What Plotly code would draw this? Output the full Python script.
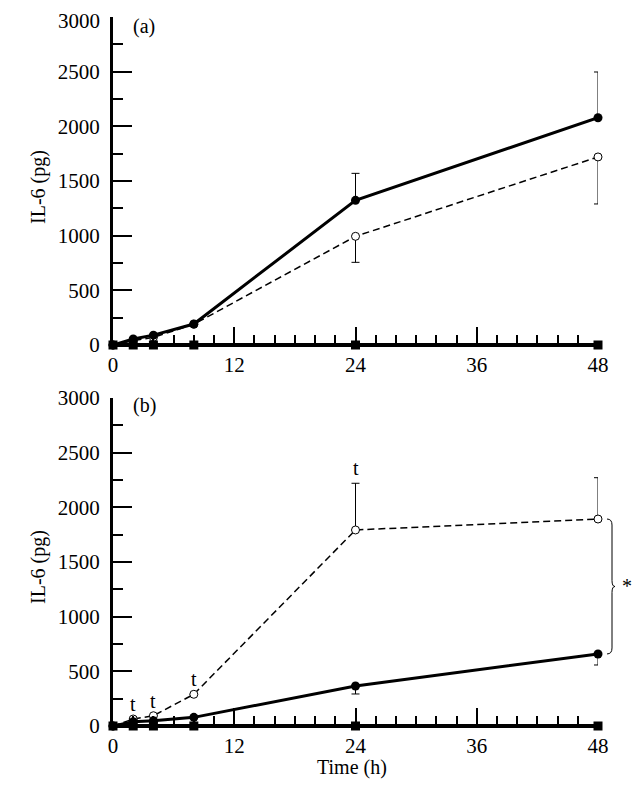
import plotly.graph_objects as go

# ---- data ----
time_h = [0, 2, 4, 8, 24, 48]

# panel (a)
a_filled = [0, 55, 90, 192, 1323, 2079]
a_filled_err_up = [0, 0, 0, 0, 247, 418]
a_open = [0, 40, 70, 190, 994, 1720]
a_open_err_down = [0, 0, 0, 0, 238, 430]
a_square = [0, 0, 0, 0, 0, 0]

# panel (b)
b_filled = [0, 40, 48, 79, 366, 659]
b_filled_err_down = [0, 0, 0, 0, 73, 101]
b_open = [0, 64, 94, 290, 1793, 1893]
b_open_err_up = [0, 0, 0, 0, 427, 378]
b_square = [0, 0, 0, 0, 0, 0]

t_marks_times = [2, 4, 8, 24]

y_ticks = [0, 500, 1000, 1500, 2000, 2500, 3000]
y_ticktext = [str(v) for v in y_ticks]
x_ticks = [0, 12, 24, 36, 48]

FONT = "Liberation Serif"
OFF = 8  # page body margin
W, H = 640 - OFF, 795 - OFF


def px_x(p):
    return (p - OFF) / W


def px_y(p):
    return 1 - (p - OFF) / H


fig = go.Figure()


def add_panel(xa, ya, filled, filled_err, filled_up, opn, open_err, open_up, sq):
    ey_open = dict(type="data", symmetric=False, color="black", thickness=1, width=4)
    if open_up:
        ey_open.update(array=open_err, arrayminus=[0] * len(open_err))
    else:
        ey_open.update(array=[0] * len(open_err), arrayminus=open_err)
    fig.add_trace(go.Scatter(
        x=time_h, y=opn, xaxis=xa, yaxis=ya, mode="lines+markers",
        line=dict(color="black", width=1.5, dash="7px,4px"),
        marker=dict(symbol="circle", size=8, color="white", line=dict(color="black", width=1)),
        error_y=ey_open, cliponaxis=False, showlegend=False))
    ey_f = dict(type="data", symmetric=False, color="black", thickness=1, width=4)
    if filled_up:
        ey_f.update(array=filled_err, arrayminus=[0] * len(filled_err))
    else:
        ey_f.update(array=[0] * len(filled_err), arrayminus=filled_err)
    fig.add_trace(go.Scatter(
        x=time_h, y=filled, xaxis=xa, yaxis=ya, mode="lines+markers",
        line=dict(color="black", width=3),
        marker=dict(symbol="circle", size=9, color="black"),
        error_y=ey_f, cliponaxis=False, showlegend=False))
    fig.add_trace(go.Scatter(
        x=time_h, y=sq, xaxis=xa, yaxis=ya, mode="lines+markers",
        line=dict(color="black", width=4),
        marker=dict(symbol="square", size=9, color="black"),
        cliponaxis=False, showlegend=False))


add_panel("x", "y", a_filled, a_filled_err_up, True, a_open, a_open_err_down, False, a_square)
add_panel("x2", "y2", b_filled, b_filled_err_down, False, b_open, b_open_err_up, True, b_square)

xdom = [px_x(113), px_x(598)]
ydom_a = [px_y(345), px_y(17)]
ydom_b = [px_y(726), px_y(398)]

common_x = dict(
    range=[0, 48], tickvals=x_ticks, ticks="inside", ticklen=18, tickwidth=1.5,
    tickcolor="black", showline=True, linecolor="black", linewidth=2,
    showgrid=False, zeroline=False, domain=xdom, automargin=False,
    ticklabeloverflow="allow",
    tickfont=dict(family=FONT, size=21, color="black"),
    minor=dict(dtick=2, tick0=0, ticks="inside", ticklen=10, tickwidth=1.5, tickcolor="black", showgrid=False),
)
common_y = dict(
    range=[0, 3000], tickvals=y_ticks, ticks="inside", ticklen=19, tickwidth=1.5,
    tickcolor="black", showline=True, linecolor="black", linewidth=3,
    showgrid=False, zeroline=False, ticklabelstandoff=6, automargin=False,
    ticklabeloverflow="allow",
    tickfont=dict(family=FONT, size=21, color="black"),
    minor=dict(dtick=250, tick0=0, ticks="inside", ticklen=10, tickwidth=1.5, tickcolor="black", showgrid=False),
)

# top panel: top tick label drawn as an annotation so it stays inside the page
ticktext_a = y_ticktext[:-1] + [""]

fig.update_layout(
    width=W, height=H, autosize=False,
    margin=dict(l=0, r=0, t=0, b=0, pad=0, autoexpand=False),
    paper_bgcolor="white", plot_bgcolor="white",
    xaxis=dict(common_x, anchor="y"),
    yaxis=dict(common_y, anchor="x", domain=ydom_a, ticktext=ticktext_a),
    xaxis2=dict(common_x, anchor="y2"),
    yaxis2=dict(common_y, anchor="x2", domain=ydom_b, ticktext=y_ticktext),
    font=dict(family=FONT, size=20, color="black"),
)

ann = []
ann.append(dict(x=px_x(101), y=1.0, xref="paper", yref="paper", text=y_ticktext[-1],
                showarrow=False, xanchor="right", yanchor="top", borderpad=0,
                font=dict(family=FONT, size=21, color="black")))
ann.append(dict(x=px_x(131), y=px_y(26), xref="paper", yref="paper", text="(a)",
                showarrow=False, xanchor="left", yanchor="middle"))
ann.append(dict(x=px_x(131), y=px_y(406), xref="paper", yref="paper", text="(b)",
                showarrow=False, xanchor="left", yanchor="middle"))
for cy in (187, 567):
    ann.append(dict(x=px_x(38), y=px_y(cy), xref="paper", yref="paper", text="IL-6 (pg)",
                    textangle=-90, showarrow=False, xanchor="center", yanchor="middle"))
ann.append(dict(x=px_x(352), y=px_y(767), xref="paper", yref="paper", text="Time (h)",
                showarrow=False, xanchor="center", yanchor="middle"))
for t in t_marks_times:
    i = time_h.index(t)
    yv = b_open[i] + b_open_err_up[i]
    ann.append(dict(x=t, y=yv, xref="x2", yref="y2", text="t", showarrow=False,
                    xanchor="center", yanchor="bottom", yshift=2))


def yb(v):
    return ydom_b[0] + v / 3000 * (ydom_b[1] - ydom_b[0])


top = yb(b_open[-1])
bot = yb(b_filled[-1])
mid = (top + bot) / 2
d = 6 / H
x0, x1, x2 = px_x(607), px_x(612), px_x(615)
path = (f"M {x0},{top} Q {x1},{top} {x1},{top - d} L {x1},{mid + d} "
        f"Q {x1},{mid} {x2},{mid} Q {x1},{mid} {x1},{mid - d} "
        f"L {x1},{bot + d} Q {x1},{bot} {x0},{bot}")
fig.add_shape(type="path", path=path, xref="paper", yref="paper",
              line=dict(color="black", width=1))
ann.append(dict(x=px_x(627), y=mid, xref="paper", yref="paper", text="*", showarrow=False,
                xanchor="center", yanchor="middle"))

fig.update_layout(annotations=ann)
fig.write_html("out.html")
